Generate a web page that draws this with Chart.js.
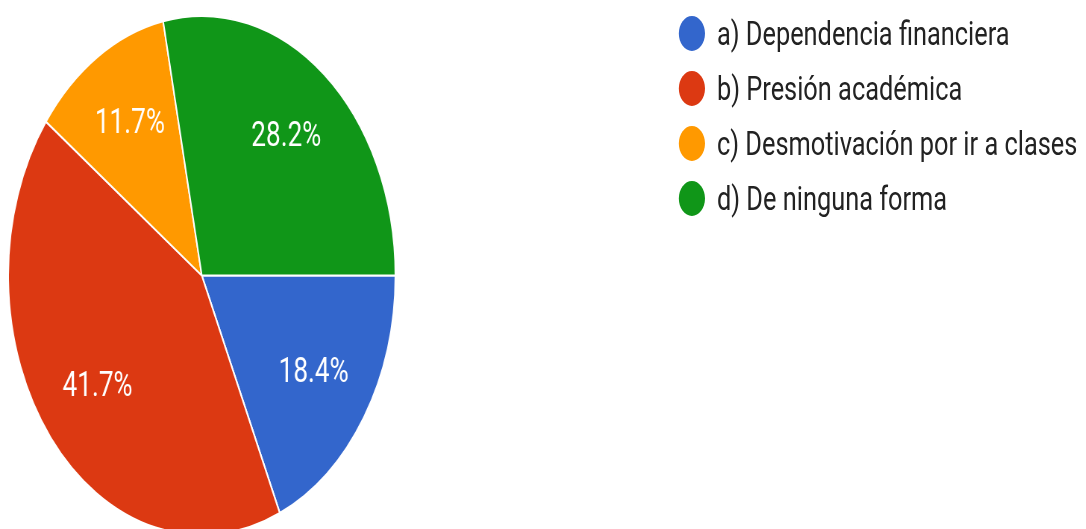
<!DOCTYPE html>
<html>
<head>
<meta charset="utf-8">
<script src="https://cdn.jsdelivr.net/npm/chart.js@4"></script>
<style>
  html, body { margin: 0; padding: 0; background: #fff; overflow: hidden; width: 1086px; height: 529px; }
  /* the original picture is squeezed sideways, so the whole chart is drawn wide and scaled in x */
  #wrap { position: absolute; left: 0; top: 0; width: 1456px; height: 560px; transform: scaleX(0.746); transform-origin: 0 0; }
  #pie { position: absolute; left: 10px; top: 15px; width: 521px; height: 521px; }
  #legend { position: absolute; left: 910px; top: 0; font-family: Roboto, sans-serif; font-size: 34px; color: #222; }
  .row { position: absolute; left: 0; height: 36px; display: flex; align-items: center; white-space: nowrap; }
  .dot { width: 35px; height: 35px; border-radius: 50%; margin-right: 16px; flex: none; }
</style>
</head>
<body>
<div id="wrap">
  <div id="pie"><canvas id="chart"></canvas></div>
  <div id="legend"></div>
</div>
<script>
const labels = ['a) Dependencia financiera', 'b) Presión académica', 'c) Desmotivación por ir a clases', 'd) De ninguna forma'];
const values = [18.4, 41.7, 11.7, 28.2];
const colors = ['#3366cc', '#dc3912', '#ff9900', '#109618'];

// percent labels inside the slices
const sliceLabels = {
    id: 'sliceLabels',
    afterDatasetsDraw(chart) {
        const ctx = chart.ctx;
        const meta = chart.getDatasetMeta(0);
        const total = values.reduce((a, b) => a + b, 0);
        ctx.save();
        ctx.fillStyle = '#fff';
        ctx.font = '35px Roboto, sans-serif';
        ctx.textAlign = 'center';
        ctx.textBaseline = 'middle';
        meta.data.forEach((arc, i) => {
            const mid = (arc.startAngle + arc.endAngle) / 2;
            const r = arc.outerRadius * 0.69;
            const txt = (values[i] / total * 100).toFixed(1) + '%';
            ctx.fillText(txt, arc.x + Math.cos(mid) * r, arc.y + Math.sin(mid) * r);
        });
        ctx.restore();
    }
};

new Chart(document.getElementById('chart'), {
    type: 'pie',
    data: {
        labels: labels,
        datasets: [{
            data: values,
            backgroundColor: colors,
            borderColor: '#fff',
            borderWidth: 2
        }]
    },
    options: {
        responsive: true,
        maintainAspectRatio: false,
        animation: false,
        rotation: 90,
        layout: { padding: 0 },
        plugins: {
            legend: { display: false },
            tooltip: { enabled: false }
        }
    },
    plugins: [sliceLabels]
});

const rowY = [33, 88, 143, 198];
document.getElementById('legend').innerHTML = labels.map((l, i) => `
    <div class="row" style="top:${rowY[i] - 18}px">
        <span class="dot" style="background:${colors[i]}"></span><span>${l}</span>
    </div>`).join('');
</script>
</body>
</html>
